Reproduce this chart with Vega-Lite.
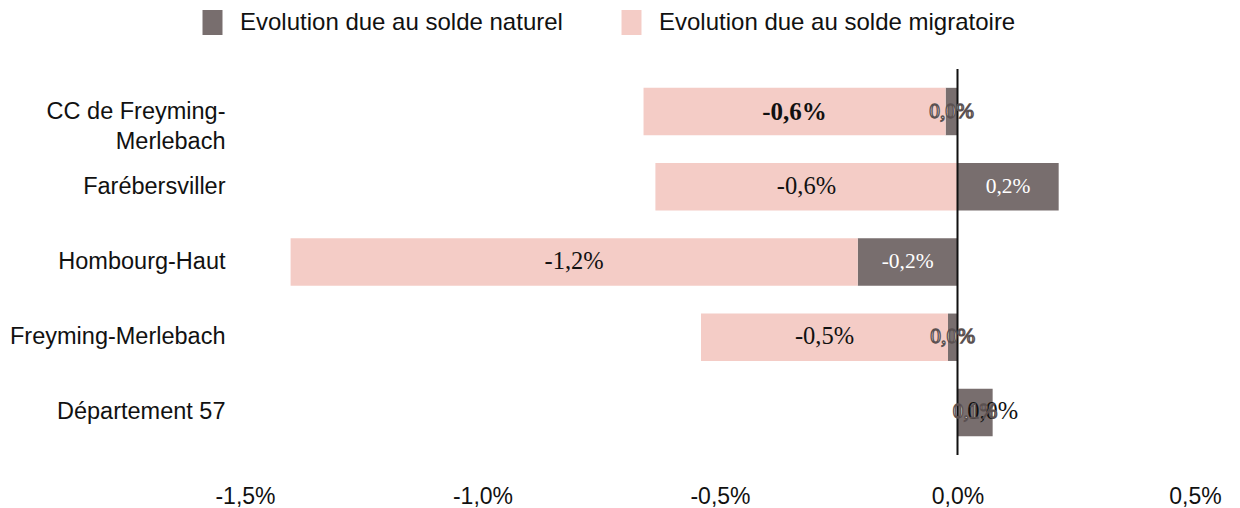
{
  "$schema": "https://vega.github.io/schema/vega-lite/v6.json",
  "width": 950,
  "height": 386,
  "autosize": "none",
  "padding": {"left": 245, "top": 69, "right": 45, "bottom": 53},
  "background": "white",
  "config": {
    "view": {"stroke": null},
    "font": "Liberation Sans, sans-serif"
  },
  "data": {
    "values": [
      {"territoire": "CC de Freyming-Merlebach", "serie": "Evolution due au solde naturel", "valeur": -0.025, "label": "0,0%"},
      {"territoire": "CC de Freyming-Merlebach", "serie": "Evolution due au solde migratoire", "valeur": -0.636, "label": "-0,6%"},
      {"territoire": "Farébersviller", "serie": "Evolution due au solde naturel", "valeur": 0.213, "label": "0,2%"},
      {"territoire": "Farébersviller", "serie": "Evolution due au solde migratoire", "valeur": -0.636, "label": "-0,6%"},
      {"territoire": "Hombourg-Haut", "serie": "Evolution due au solde naturel", "valeur": -0.21, "label": "-0,2%"},
      {"territoire": "Hombourg-Haut", "serie": "Evolution due au solde migratoire", "valeur": -1.194, "label": "-1,2%"},
      {"territoire": "Freyming-Merlebach", "serie": "Evolution due au solde naturel", "valeur": -0.02, "label": "0,0%"},
      {"territoire": "Freyming-Merlebach", "serie": "Evolution due au solde migratoire", "valeur": -0.52, "label": "-0,5%"},
      {"territoire": "Département 57", "serie": "Evolution due au solde naturel", "valeur": 0.074, "label": "0,1%"},
      {"territoire": "Département 57", "serie": "Evolution due au solde migratoire", "valeur": 0.0, "label": "0,0%"}
    ]
  },
  "layer": [
    {
      "mark": {"type": "bar"},
      "encoding": {
        "y": {
          "field": "territoire", "type": "nominal",
          "sort": ["CC de Freyming-Merlebach", "Farébersviller", "Hombourg-Haut", "Freyming-Merlebach", "Département 57"],
          "scale": {"paddingInner": 0.37, "paddingOuter": 0.25},
          "axis": {
            "title": null, "domain": false, "ticks": false, "labelFontSize": 23.5, "labelColor": "#111",
            "labelPadding": 20, "labelLineHeight": 30, "labelLimit": 300,
            "labelExpr": "datum.label == 'CC de Freyming-Merlebach' ? ['CC de Freyming-', 'Merlebach'] : datum.label"
          }
        },
        "x": {
          "field": "valeur", "type": "quantitative", "stack": "zero",
          "scale": {"domain": [-1.5, 0.5], "nice": false, "zero": false},
          "axis": {
            "title": null, "domain": false, "ticks": false, "grid": false,
            "values": [-1.5, -1, -0.5, 0, 0.5], "labelFontSize": 23, "labelColor": "#111",
            "labelPadding": 30, "labelFlush": false,
            "labelExpr": "(datum.value < 0 ? '-' : '') + replace(format(abs(datum.value), '.1f'), '.', ',') + '%'"
          }
        },
        "color": {
          "field": "serie", "type": "nominal",
          "scale": {"domain": ["Evolution due au solde naturel", "Evolution due au solde migratoire"], "range": ["#786e6e", "#f4ccc6"]},
          "legend": {
            "title": null, "orient": "none", "legendX": -45, "legendY": -59, "direction": "horizontal",
            "symbolType": "M-0.8,-1H0.8V1H-0.8Z", "symbolSize": 625, "symbolStrokeWidth": 0, "labelFontSize": 24, "labelColor": "#111",
            "labelOffset": 15, "columnPadding": 56, "labelLimit": 500
          }
        },
        "order": {"field": "serie", "sort": "descending"}
      }
    },
    {
      "data": {"values": [{}]},
      "mark": {"type": "rule", "color": "#111", "strokeWidth": 2},
      "encoding": {"x": {"datum": 0}}
    },
    {
      "transform": [{"filter": "datum.territoire != 'CC de Freyming-Merlebach'"}],
      "mark": {"type": "text", "font": "Liberation Serif, serif", "fontSize": 24.5, "color": "#111"},
      "encoding": {
        "y": {"field": "territoire", "type": "nominal", "sort": ["CC de Freyming-Merlebach", "Farébersviller", "Hombourg-Haut", "Freyming-Merlebach", "Département 57"]},
        "x": {"field": "valeur", "type": "quantitative", "stack": "zero", "bandPosition": 0.5},
        "detail": {"field": "serie"},
        "order": {"field": "serie", "sort": "descending"},
        "text": {"condition": {"test": "datum.serie == 'Evolution due au solde naturel'", "value": ""}, "field": "label"}
      }
    },
    {
      "transform": [{"filter": "datum.territoire == 'CC de Freyming-Merlebach'"}],
      "mark": {"type": "text", "font": "Liberation Serif, serif", "fontSize": 25, "fontWeight": "bold", "color": "#111"},
      "encoding": {
        "y": {"field": "territoire", "type": "nominal", "sort": ["CC de Freyming-Merlebach", "Farébersviller", "Hombourg-Haut", "Freyming-Merlebach", "Département 57"]},
        "x": {"field": "valeur", "type": "quantitative", "stack": "zero", "bandPosition": 0.5},
        "detail": {"field": "serie"},
        "order": {"field": "serie", "sort": "descending"},
        "text": {"condition": {"test": "datum.serie == 'Evolution due au solde naturel'", "value": ""}, "field": "label"}
      }
    },
    {
      "transform": [{"filter": "datum.serie == 'Evolution due au solde naturel'"}],
      "mark": {"type": "text", "font": "Liberation Serif, serif", "fontSize": 21.5, "color": "white", "strokeWidth": 1.3},
      "encoding": {
        "y": {"field": "territoire", "type": "nominal", "sort": ["CC de Freyming-Merlebach", "Farébersviller", "Hombourg-Haut", "Freyming-Merlebach", "Département 57"]},
        "x": {"field": "valeur", "type": "quantitative", "stack": "zero", "bandPosition": 0.5},
        "stroke": {"condition": {"test": "abs(datum.valeur) < 0.1", "value": "#5a5050"}, "value": null},
        "text": {"field": "label"}
      }
    }
  ]
}
